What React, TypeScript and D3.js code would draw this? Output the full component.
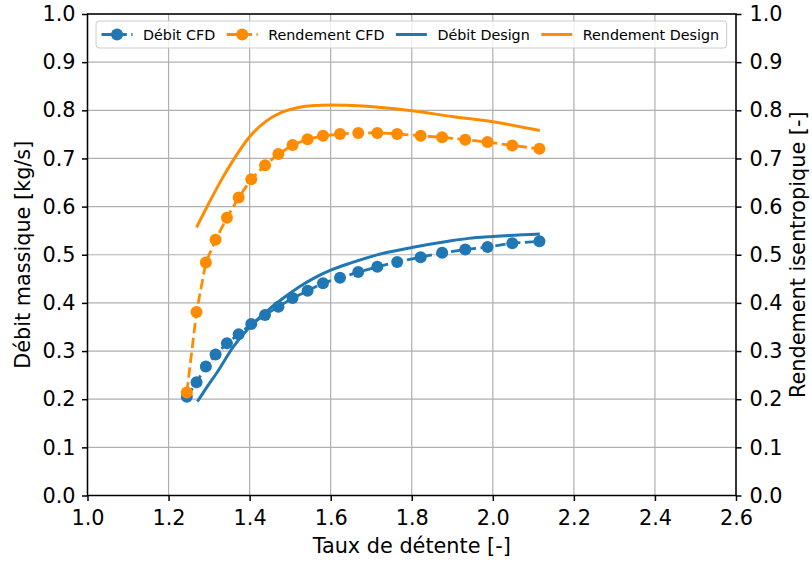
import React, { useEffect, useRef } from 'react';
import * as d3 from 'd3';

const xTicks = [1.0, 1.2, 1.4, 1.6, 1.8, 2.0, 2.2, 2.4, 2.6];
const yTicks = [0.0, 0.1, 0.2, 0.3, 0.4, 0.5, 0.6, 0.7, 0.8, 0.9, 1.0];

const cfdRatio = [1.245, 1.269, 1.292, 1.316, 1.344, 1.373, 1.404, 1.438, 1.471, 1.506, 1.543, 1.581, 1.623, 1.668, 1.715, 1.764, 1.822, 1.875, 1.932, 1.987, 2.048, 2.115];
const cfdDebit = [0.205, 0.235, 0.268, 0.293, 0.316, 0.335, 0.356, 0.375, 0.392, 0.410, 0.425, 0.441, 0.452, 0.464, 0.475, 0.485, 0.495, 0.504, 0.511, 0.516, 0.524, 0.528];
const cfdRendement = [0.214, 0.381, 0.484, 0.531, 0.577, 0.619, 0.657, 0.686, 0.709, 0.728, 0.740, 0.747, 0.751, 0.753, 0.753, 0.751, 0.747, 0.744, 0.739, 0.734, 0.727, 0.720];

const designDebitRatio = [1.271, 1.30, 1.32, 1.36, 1.40, 1.44, 1.48, 1.52, 1.56, 1.60, 1.65, 1.73, 1.80, 1.89, 1.94, 2.00, 2.116];
const designDebit = [0.195, 0.232, 0.256, 0.309, 0.350, 0.381, 0.408, 0.432, 0.452, 0.468, 0.483, 0.503, 0.515, 0.528, 0.534, 0.538, 0.543];

const designRendRatio = [1.269, 1.30, 1.33, 1.36, 1.40, 1.44, 1.48, 1.52, 1.56, 1.60, 1.68, 1.80, 1.90, 2.00, 2.116];
const designRend = [0.557, 0.608, 0.655, 0.697, 0.745, 0.777, 0.796, 0.806, 0.810, 0.811, 0.809, 0.799, 0.787, 0.776, 0.758];

const legendLabels = ['Débit CFD', 'Rendement CFD', 'Débit Design', 'Rendement Design'];

const BLUE = '#1f77b4';
const ORANGE = '#ff8c00';
const FONT = '"DejaVu Sans", sans-serif';

export default function App() {
  const ref = useRef<SVGSVGElement>(null);

  useEffect(() => {
    const svg = d3.select(ref.current as SVGSVGElement);
    svg.selectAll('*').remove();
    const left = 87.5, right = 736, top = 14, bottom = 495.5;
    const x = d3.scaleLinear().domain([1.0, 2.6]).range([left, right]);
    const y = d3.scaleLinear().domain([0, 1]).range([bottom, top]);

    svg.append('rect').attr('width', 812).attr('height', 562).attr('fill', '#fff');

    // grid
    const grid = svg.append('g');
    grid.selectAll('line.v').data(xTicks).enter().append('line')
      .attr('x1', d => x(d)).attr('x2', d => x(d)).attr('y1', top).attr('y2', bottom)
      .attr('stroke', '#b0b0b0').attr('stroke-width', 1.2);
    grid.selectAll('line.h').data(yTicks).enter().append('line')
      .attr('y1', d => y(d)).attr('y2', d => y(d)).attr('x1', left).attr('x2', right)
      .attr('stroke', '#b0b0b0').attr('stroke-width', 1.2);

    // axes
    const fmt = d3.format('.1f');
    const styleAxis = (g: any) => {
      g.select('.domain').remove();
      g.selectAll('.tick line').attr('stroke', '#000').attr('stroke-width', 1.5);
      g.selectAll('.tick text').attr('fill', '#000').style('font-family', FONT).style('font-size', '20.8px');
    };
    const gx = svg.append('g').attr('transform', `translate(0,${bottom})`)
      .call(d3.axisBottom(x).tickValues(xTicks).tickFormat(fmt as any).tickSize(5.5).tickPadding(9.5));
    styleAxis(gx);
    const gy = svg.append('g').attr('transform', `translate(${left},0)`)
      .call(d3.axisLeft(y).tickValues(yTicks).tickFormat(fmt as any).tickSize(5.5).tickPadding(6.5));
    styleAxis(gy);
    const gy2 = svg.append('g').attr('transform', `translate(${right},0)`)
      .call(d3.axisRight(y).tickValues(yTicks).tickFormat(fmt as any).tickSize(5.5).tickPadding(8));
    styleAxis(gy2);

    // data
    const cfdD = cfdRatio.map((r, i) => [r, cfdDebit[i]] as [number, number]);
    const cfdR = cfdRatio.map((r, i) => [r, cfdRendement[i]] as [number, number]);
    const desD = designDebitRatio.map((r, i) => [r, designDebit[i]] as [number, number]);
    const desR = designRendRatio.map((r, i) => [r, designRend[i]] as [number, number]);

    const lineStraight = d3.line<[number, number]>().x(d => x(d[0])).y(d => y(d[1]));
    const lineSmooth = d3.line<[number, number]>().x(d => x(d[0])).y(d => y(d[1])).curve(d3.curveMonotoneX);

    const plot = svg.append('g');
    const drawCfd = (data: [number, number][], color: string) => {
      plot.append('path').datum(data).attr('d', lineStraight).attr('fill', 'none')
        .attr('stroke', color).attr('stroke-width', 2.8).attr('stroke-dasharray', '10.4,4.5');
      plot.selectAll(null).data(data).enter().append('circle')
        .attr('cx', d => x(d[0])).attr('cy', d => y(d[1])).attr('r', 6).attr('fill', color);
    };
    const drawDesign = (data: [number, number][], color: string) => {
      plot.append('path').datum(data).attr('d', lineSmooth).attr('fill', 'none')
        .attr('stroke', color).attr('stroke-width', 3);
    };
    drawCfd(cfdD, BLUE);
    drawDesign(desD, BLUE);
    drawCfd(cfdR, ORANGE);
    drawDesign(desR, ORANGE);

    // spines
    svg.append('rect').attr('x', left).attr('y', top).attr('width', right - left).attr('height', bottom - top)
      .attr('fill', 'none').attr('stroke', '#000').attr('stroke-width', 1.5);

    // axis labels
    svg.append('text').attr('x', (left + right) / 2).attr('y', 553.3).attr('text-anchor', 'middle')
      .style('font-family', FONT).style('font-size', '20.8px').text('Taux de détente [-]');
    svg.append('text').attr('transform', `translate(29.5,${(top + bottom) / 2}) rotate(-90)`).attr('text-anchor', 'middle')
      .style('font-family', FONT).style('font-size', '20.8px').text('Débit massique [kg/s]');
    svg.append('text').attr('transform', `translate(805,${(top + bottom) / 2}) rotate(-90)`).attr('text-anchor', 'middle')
      .style('font-family', FONT).style('font-size', '20.8px').text('Rendement isentropique [-]');

    // legend
    const lg = svg.append('g');
    const box = lg.append('rect').attr('x', 96).attr('y', 21).attr('height', 27).attr('rx', 3)
      .attr('fill', 'rgba(255,255,255,0.8)').attr('stroke', '#cccccc').attr('stroke-width', 1);
    const cy = 34.5;
    const handleLen = 31, textPad = 10.5, colSpace = 11.5;
    let cx = 101.5;
    const colors = [BLUE, ORANGE, BLUE, ORANGE];
    legendLabels.forEach((lab, i) => {
      const c = colors[i];
      const isCfd = i < 2;
      lg.append('line').attr('x1', cx).attr('x2', cx + handleLen).attr('y1', cy).attr('y2', cy)
        .attr('stroke', c).attr('stroke-width', isCfd ? 2.8 : 3)
        .attr('stroke-dasharray', isCfd ? '10.4,4.5' : null);
      if (isCfd) lg.append('circle').attr('cx', cx + handleLen / 2).attr('cy', cy).attr('r', 6).attr('fill', c);
      const t = lg.append('text').attr('x', cx + handleLen + textPad).attr('y', cy).attr('dy', '0.36em')
        .style('font-family', FONT).style('font-size', '14.3px').attr('fill', '#000').text(lab);
      const w = (t.node() as SVGTextElement).getComputedTextLength();
      cx = cx + handleLen + textPad + w + colSpace;
    });
    box.attr('width', cx - colSpace + 7.5 - 96);
  }, []);

  return <svg ref={ref} width={812} height={562} style={{ position: 'absolute', left: 0, top: 0 }} />;
}
